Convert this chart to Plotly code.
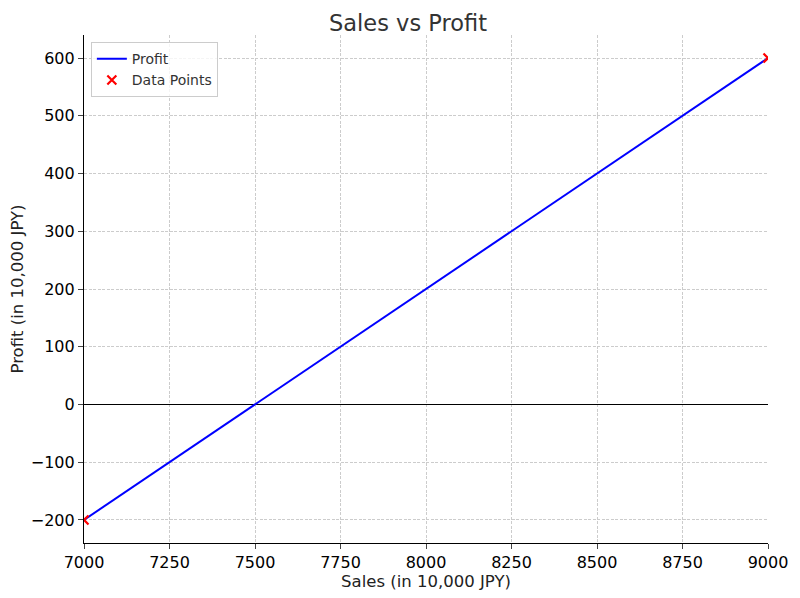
import plotly.graph_objects as go

# Break-even data (in 10,000 JPY)
sales = [7000, 9000]
profit = [-200, 600]

x_ticks = [7000, 7250, 7500, 7750, 8000, 8250, 8500, 8750, 9000]
y_ticks = [-200, -100, 0, 100, 200, 300, 400, 500, 600]

fig = go.Figure()
fig.add_trace(go.Scatter(
    x=sales, y=profit, mode='lines', name='Profit',
    line=dict(color='blue', width=2)
))
fig.add_trace(go.Scatter(
    x=sales, y=profit, mode='markers', name='Data Points',
    marker=dict(symbol='x-thin', size=9, line=dict(color='red', width=2.2), color='red')
))

# page body has an 8px margin, so margins are shifted by that
fig.update_layout(
    title=dict(text='Sales vs Profit', x=0.5, xanchor='center', y=0.988, yanchor='top',
               font=dict(size=22.5, color='#333333')),
    width=800, height=598,
    margin=dict(l=76, r=40, t=27, b=63),
    plot_bgcolor='white', paper_bgcolor='white',
    font=dict(family='DejaVu Sans', size=16, color='black'),
    legend=dict(x=0.01, y=0.986, xanchor='left', yanchor='top',
                bgcolor='rgba(255,255,255,0.8)', bordercolor='#cccccc', borderwidth=1,
                font=dict(size=14, color='#333333')),
    showlegend=True,
)
fig.update_xaxes(
    title=dict(text='Sales (in 10,000 JPY)', font=dict(size=16.5, color='#222222'), standoff=2),
    range=[7000, 9000], tickvals=x_ticks, ticks='outside', ticklen=5,
    showline=True, linecolor='black', linewidth=1.2, mirror=False,
    showgrid=True, gridcolor='#cccccc', griddash='3px,1.5px', gridwidth=0.8, zeroline=False,
)
fig.update_yaxes(
    title=dict(text='Profit (in 10,000 JPY)', font=dict(size=16.5, color='#222222')),
    automargin=False,
    range=[-240, 640], tickvals=y_ticks, ticks='outside', ticklen=5,
    showline=True, linecolor='black', linewidth=1.2, mirror=False,
    showgrid=True, gridcolor='#cccccc', griddash='3px,1.5px', gridwidth=0.8,
    zeroline=True, zerolinecolor='black', zerolinewidth=1.2,
    tickformat='d',
)

fig.write_html("out.html")
